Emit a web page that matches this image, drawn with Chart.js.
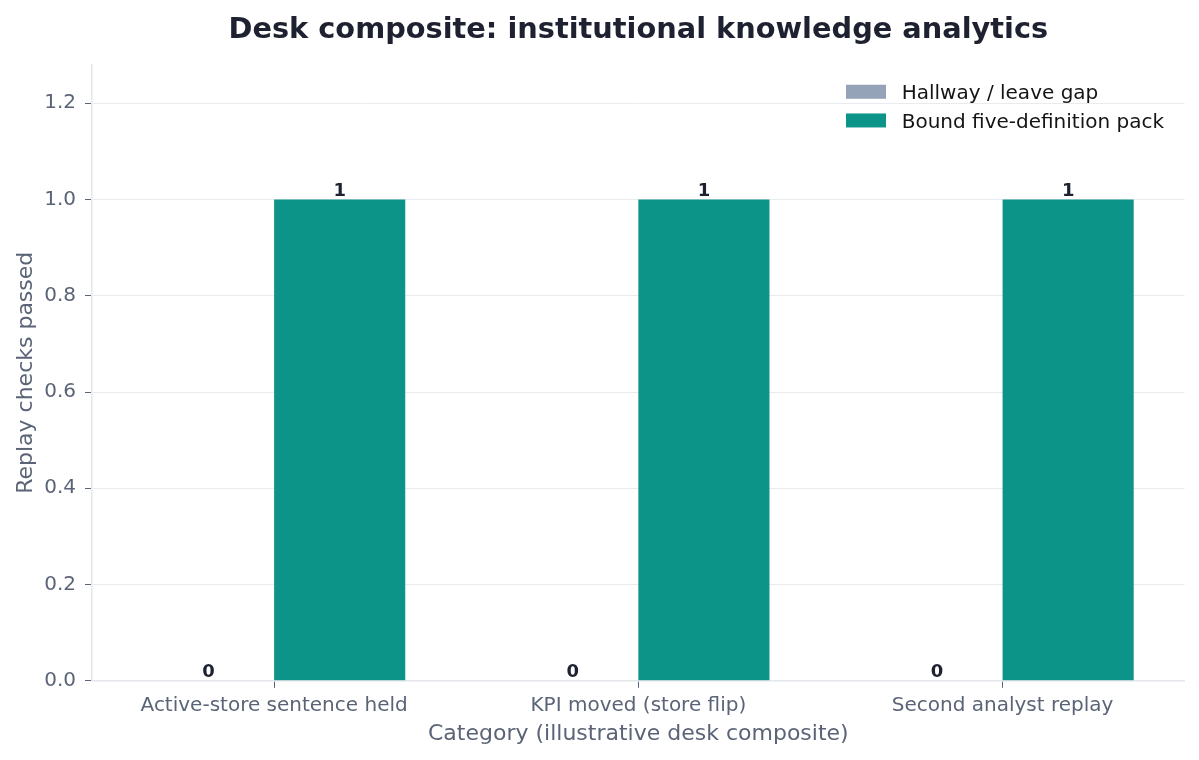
<!DOCTYPE html>
<html><head><meta charset="utf-8">
<script src="https://cdn.jsdelivr.net/npm/chart.js@4/dist/chart.umd.min.js"></script>
<style>html,body{margin:0;padding:0;background:#fff}#wrap{width:1199px;height:760px}</style>
</head><body><div id="wrap"><canvas id="c" width="1199" height="760"></canvas></div>
<script>
const categories = ["Active-store sentence held", "KPI moved (store flip)", "Second analyst replay"];
const hallwayValues = [0, 0, 0];
const boundValues = [1, 1, 1];
const seriesLabels = ["Hallway / leave gap", "Bound five-definition pack"];
const yTicks = [0, 0.2, 0.4, 0.6, 0.8, 1.0, 1.2];

const FONT = "'DejaVu Sans', sans-serif";
const TXT = '#5b6477';

const valueLabels = {
  id: 'valueLabels',
  afterDatasetsDraw(chart) {
    const ctx = chart.ctx;
    ctx.save();
    ctx.font = 'bold 18px ' + FONT;
    ctx.fillStyle = '#1e2130';
    ctx.textAlign = 'center';
    ctx.textBaseline = 'alphabetic';
    chart.data.datasets.forEach((ds, i) => {
      chart.getDatasetMeta(i).data.forEach((el, j) => {
        ctx.fillText(String(ds.data[j]), el.x, el.y - 3.5);
      });
    });
    ctx.restore();
  }
};

const boxLegend = {
  id: 'boxLegend',
  afterDraw(chart) {
    const ctx = chart.ctx;
    const a = chart.chartArea;
    ctx.save();
    ctx.font = '20px ' + FONT;
    ctx.textBaseline = 'alphabetic';
    ctx.textAlign = 'left';
    chart.data.datasets.forEach((ds, i) => {
      const y = a.top + 27 + i * 28.7;
      ctx.fillStyle = ds.backgroundColor;
      ctx.fillRect(a.right - 338.7, y - 7, 40, 14);
      ctx.fillStyle = '#141414';
      ctx.fillText(ds.label, a.right - 283, y + 7.3);
    });
    ctx.restore();
  }
};

new Chart(document.getElementById('c'), {
  type: 'bar',
  data: {
    labels: categories,
    datasets: [
      { label: seriesLabels[0], data: hallwayValues, backgroundColor: '#94a3b8' },
      { label: seriesLabels[1], data: boundValues, backgroundColor: '#0d9488' }
    ]
  },
  options: {
    responsive: false,
    animation: false,
    devicePixelRatio: 1,
    layout: { padding: { left: 6, right: 14.3, top: 0, bottom: 10 } },
    datasets: { bar: { barPercentage: 1, categoryPercentage: 0.72 } },
    plugins: {
      legend: { display: false },
      tooltip: { enabled: false },
      title: {
        display: true,
        fullSize: false,
        text: 'Desk composite: institutional knowledge analytics',
        color: '#1e2130',
        font: { family: FONT, size: 28.8, weight: 'bold' },
        padding: { top: 13, bottom: 17.2 }
      }
    },
    scales: {
      x: {
        offset: true,
        grid: { display: true, drawOnChartArea: false, offset: false, drawTicks: true, tickLength: 7, tickColor: '#5b6477', color: '#5b6477' },
        border: { display: true, color: '#e3e6ea', width: 1.5 },
        ticks: { color: TXT, font: { family: FONT, size: 20 }, padding: 6, maxRotation: 0 },
        title: { display: true, text: 'Category (illustrative desk composite)', color: TXT, font: { family: FONT, size: 22 }, padding: { top: 4, bottom: 2.4 } },
        afterFit(s) { s.height = 69.2; }
      },
      y: {
        min: 0, max: 1.28,
        grid: { color: '#e9ebee', lineWidth: 1, drawTicks: true, tickLength: 7, tickColor: '#5b6477' },
        border: { display: true, color: '#e3e6ea', width: 1.5 },
        afterBuildTicks(s) { s.ticks = yTicks.map(v => ({ value: v })); },
        ticks: { color: TXT, font: { family: FONT, size: 20 }, padding: 9, callback: v => Number(v).toFixed(1) },
        title: { display: true, text: 'Replay checks passed', color: TXT, font: { family: FONT, size: 22 }, padding: { top: 7.2, bottom: 4 } },
        afterFit(s) { s.width = 86; }
      }
    }
  },
  plugins: [valueLabels, boxLegend]
});
</script></body></html>
